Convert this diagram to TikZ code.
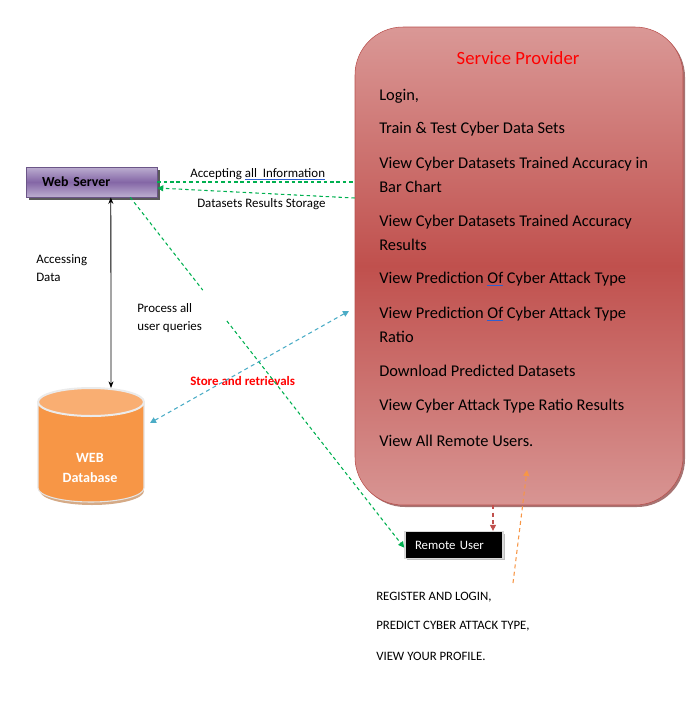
\documentclass[tikz,border=0pt]{standalone}
\usepackage{fontspec}
\setmainfont{Carlito}
\usetikzlibrary{arrows.meta,calc,shadows}
\definecolor{sptop}{HTML}{DA9896}
\definecolor{spmid}{HTML}{C0504D}
\definecolor{spbot}{HTML}{D89593}
\definecolor{spedge}{HTML}{B9504D}
\definecolor{wslight}{HTML}{BCAED0}
\definecolor{wsdark}{HTML}{8466A6}
\definecolor{wsedge}{HTML}{6B5587}
\definecolor{dbbody}{HTML}{F79646}
\definecolor{dbtopc}{HTML}{F9AE72}
\definecolor{linkgreen}{HTML}{00B050}
\definecolor{linkblue}{HTML}{4BACC6}
\definecolor{linkred}{HTML}{C0504D}
\definecolor{spellblue}{HTML}{2F5FD0}
\newcommand{\spell}[1]{{\color{spellblue}\underline{{\color{black}#1}}}}
\begin{document}
\begin{tikzpicture}[x=0.75pt,y=-0.75pt,
    txt/.style={anchor=west,inner sep=0pt,font=\fontsize{12.3}{14}\selectfont},
    small/.style={anchor=west,inner sep=0pt,align=left,font=\fontsize{9.7}{13.5}\selectfont},
    caps/.style={anchor=west,inner sep=0pt,font=\fontsize{9.6}{11}\selectfont},
    gdash/.style={draw=linkgreen,line width=0.8pt,dash pattern=on 2.6pt off 2.2pt},
    tip/.style={-{Triangle[length=4.5pt,width=4.5pt]}}]
    \useasboundingbox (0,0) rectangle (693,704);
    % service provider
    \node[draw=spedge,rounded corners=36pt,minimum width=246pt,minimum height=358.5pt,
          top color=sptop,bottom color=spbot,middle color=spmid,
          drop shadow={shadow xshift=1.5pt,shadow yshift=-1.5pt,fill=spedge!70!black,opacity=0.7}] (sp) at (519,266) {};
    \node[text=red,inner sep=0pt,font=\fontsize{14}{16}\selectfont] (title) at (518,58) {Service Provider};
    \foreach \y/\t in {96/{Login,},129/{Train \& Test Cyber Data Sets},
        164/{View Cyber Datasets Trained Accuracy in},187/{Bar Chart},
        222/{View Cyber Datasets Trained Accuracy},245/{Results},
        279/{View Prediction \spell{Of} Cyber Attack Type},
        314/{View Prediction \spell{Of} Cyber Attack Type},337/{Ratio},
        371/{Download Predicted Datasets},406/{View Cyber Attack Type Ratio Results},
        441/{View All Remote Users.}}
        \node[txt] (it\y) at (379,\y) {\t};
    % web server
    \node[draw=wsedge,top color=wslight,bottom color=wslight,middle color=wsdark,
          minimum width=98.25pt,minimum height=22.5pt,text width=74pt,inner xsep=12pt,align=left,
          font=\bfseries\fontsize{10.4}{12}\selectfont,
          drop shadow={shadow xshift=2.5pt,shadow yshift=-2.5pt,fill=black!65,opacity=1}] (ws) at (91.5,182) {Web Server};
    % remote user
    \node[fill=black,text=white,draw=black!15,line width=1.2pt,minimum width=73.5pt,minimum height=20pt,
          text width=58.5pt,inner xsep=7.5pt,align=left,font=\fontsize{9.6}{11}\selectfont,
          drop shadow={shadow xshift=1.5pt,shadow yshift=-1.5pt,fill=black!25,opacity=1}] (ru) at (454,545) {Remote User};
    % database
    \fill[black!25!dbbody!60] (40,404) -- (40,491) arc (180:0:52 and 14) -- (142,404) -- cycle;
    \filldraw[fill=dbbody,draw=white!90!black,line width=0.8pt] (38,402) -- (38,488) arc (180:0:53 and 14) -- (144,402) -- cycle;
    \filldraw[fill=dbtopc,draw=white!92!black,line width=1.5pt] (91,402) ellipse (53 and 14);
    \node[text=white,align=center,inner sep=0pt,font=\bfseries\fontsize{10.6}{15}\selectfont] (dbtxt) at (90,468) {WEB\\Database};
    \coordinate (dbtop) at (111,388);
    \coordinate (dbside) at (150,423);
    % labels
    \node[small] (acc) at (190,174) {Accepting \spell{all\ \ Information}};
    \node[small] (dss) at (197,204) {Datasets Results Storage};
    \node[small] (accd) at (36,268) {Accessing\\Data};
    \node[small] (proc) at (137,318) {Process all\\user queries};
    \node[small,text=red,font=\bfseries\fontsize{9.7}{11}\selectfont] (store) at (190,381) {Store and retrievals};
    \node[caps] (reg) at (376,597) {REGISTER AND LOGIN,};
    \node[caps] (pred) at (376,626) {PREDICT CYBER ATTACK TYPE,};
    \node[caps] (prof) at (376,656) {VIEW YOUR PROFILE.};
    % connectors
    \draw[gdash] (ws.east) -- (ws.east -| sp.west);
    \draw[gdash,tip] (sp.west |- 0,198) -- ([yshift=-4.5pt]ws.east);
    \coordinate (wsq) at ([xshift=29pt]ws.south);
    \coordinate (ruin) at ([yshift=-2pt]ru.west);
    \draw[gdash] (wsq) -- ($(wsq)!0.265!(ruin)$);
    \draw[gdash,tip] ($(wsq)!0.353!(ruin)$) -- (ruin);
    \draw[{Stealth[length=5pt]}-{Stealth[length=5pt]},line width=0.6pt] ([xshift=14.5pt]ws.south) -- (dbtop);
    \coordinate (spin) at (349,311);
    \draw[draw=linkblue,line width=0.8pt,dash pattern=on 3pt off 2.5pt,
          {Triangle[length=4.5pt,width=4.5pt]}-{Triangle[length=4.5pt,width=4.5pt]}] (dbside) -- (spin);
    \draw[draw=linkred,line width=0.8pt,dash pattern=on 3pt off 2.5pt,tip] ([xshift=-19.5pt]sp.south) -- ([xshift=29.25pt]ru.north);
    \coordinate (ofree) at (513,583);
    \coordinate (otip) at (527,470);
    \draw[draw=dbbody,line width=0.8pt,dash pattern=on 3pt off 2.5pt,tip] (ofree) -- (otip);
\end{tikzpicture}
\end{document}
